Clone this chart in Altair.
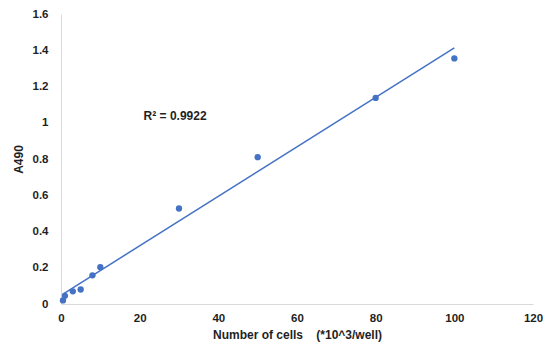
import altair as alt
import pandas as pd

cells = [0.5, 1, 3, 5, 8, 10, 30, 50, 80, 100]
a490 = [0.02, 0.045, 0.07, 0.08, 0.158, 0.203, 0.527, 0.81, 1.137, 1.355]
x_ticks = [0, 20, 40, 60, 80, 100, 120]
y_ticks = [0, 0.2, 0.4, 0.6, 0.8, 1.0, 1.2, 1.4, 1.6]
r2_label = ["R\u00b2 = 0.9922"]
r2_pos_x = [21.0]
r2_pos_y = [1.04]

df = pd.DataFrame({"cells": cells, "a490": a490})
df_txt = pd.DataFrame({"x": r2_pos_x, "y": r2_pos_y, "t": r2_label})

FONT = "Liberation Sans"
BLUE = "#4472C4"
TXT = "#1f1f1f"

xscale = alt.Scale(domain=[0, 120], nice=False)
yscale = alt.Scale(domain=[0, 1.6], nice=False)

xaxis = alt.Axis(values=x_ticks, title="Number of cells\u00a0\u00a0\u00a0\u00a0(*10^3/well)",
                 grid=False, ticks=False, domainColor="#d9d9d9", domainWidth=1,
                 labelFont=FONT, labelFontSize=11.5, labelFontWeight="bold", labelColor=TXT,
                 labelPadding=8, labelOverlap=False, titleFont=FONT, titleFontSize=12,
                 titleFontWeight="bold", titleColor=TXT, titlePadding=6, labelFlush=False)
yaxis = alt.Axis(values=y_ticks, title="A490", format="~g",
                 grid=False, ticks=False, domainColor="#d9d9d9", domainWidth=1,
                 labelFont=FONT, labelFontSize=11.5, labelFontWeight="bold", labelColor=TXT,
                 labelPadding=13, labelOverlap=False, titleFont=FONT, titleFontSize=12,
                 titleFontWeight="bold", titleColor=TXT, titlePadding=7, labelFlush=False)

base = alt.Chart(df)

points = base.mark_circle(size=40, color=BLUE, opacity=1).encode(
    x=alt.X("cells:Q", scale=xscale, axis=xaxis),
    y=alt.Y("a490:Q", scale=yscale, axis=yaxis),
)

trend = base.transform_regression("cells", "a490").mark_line(color=BLUE, strokeWidth=1.5).encode(
    x=alt.X("cells:Q", scale=xscale, axis=xaxis),
    y=alt.Y("a490:Q", scale=yscale, axis=yaxis),
)

label = alt.Chart(df_txt).mark_text(align="left", baseline="middle", font=FONT,
                                    fontSize=12, fontWeight="bold", color=TXT).encode(
    x=alt.X("x:Q", scale=xscale, axis=xaxis),
    y=alt.Y("y:Q", scale=yscale, axis=yaxis),
    text="t:N",
)

chart = alt.layer(points, trend, label).properties(
    width=472, height=290,
    autosize=alt.AutoSizeParams(type="none"),
    padding={"left": 61, "top": 14, "right": 23, "bottom": 58},
    background="white",
).configure_view(stroke=None)

chart.save("out.html", embed_options={"renderer": "svg", "actions": False})
